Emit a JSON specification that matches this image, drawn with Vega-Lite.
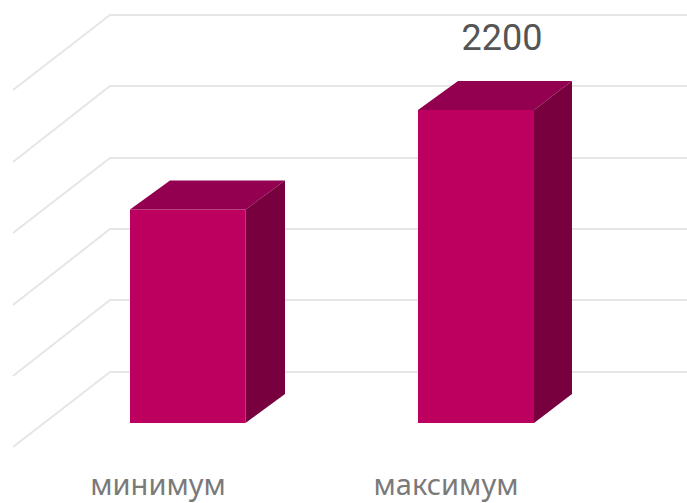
{
"$schema":"https://vega.github.io/schema/vega-lite/v6.json",
"width":687,"height":503,"padding":0,"autosize":{"type":"none"},
"background":"white","view":{"stroke":null},
"datasets":{
"grid":[
{"g":"a","x":13,"v":2341},{"g":"a","x":110,"v":2868},{"g":"a","x":687,"v":2868},
{"g":"b","x":13,"v":1835},{"g":"b","x":110,"v":2369},{"g":"b","x":687,"v":2369},
{"g":"c","x":13,"v":1336},{"g":"c","x":110,"v":1863},{"g":"c","x":687,"v":1863},
{"g":"d","x":13,"v":829},{"g":"d","x":110,"v":1364},{"g":"d","x":687,"v":1364},
{"g":"e","x":13,"v":330},{"g":"e","x":110,"v":865},{"g":"e","x":687,"v":865},
{"g":"f","x":13,"v":-169},{"g":"f","x":110,"v":358},{"g":"f","x":687,"v":358}
],
"faces":[
{"bar":"min","face":"front","x":130,"v":1500,"v2":0},{"bar":"min","face":"front","x":245.5,"v":1500,"v2":0},
{"bar":"min","face":"side","x":245.5,"v":1500,"v2":0},{"bar":"min","face":"side","x":285,"v":1704,"v2":204},
{"bar":"min","face":"top","x":130,"v":1500,"v2":1500},{"bar":"min","face":"top","x":170,"v":1704,"v2":1500},{"bar":"min","face":"top","x":245.5,"v":1704,"v2":1500},{"bar":"min","face":"top","x":285,"v":1704,"v2":1704},
{"bar":"max","face":"front","x":418,"v":2200,"v2":0},{"bar":"max","face":"front","x":534,"v":2200,"v2":0},
{"bar":"max","face":"side","x":534,"v":2200,"v2":0},{"bar":"max","face":"side","x":572,"v":2404,"v2":204},
{"bar":"max","face":"top","x":418,"v":2200,"v2":2200},{"bar":"max","face":"top","x":458,"v":2404,"v2":2200},{"bar":"max","face":"top","x":534,"v":2404,"v2":2200},{"bar":"max","face":"top","x":572,"v":2404,"v2":2404}
]
},
"encoding":{
"x":{"field":"x","type":"quantitative","scale":{"domain":[0,687],"nice":false,"zero":false},"axis":null},
"y":{"field":"v","type":"quantitative","scale":{"domain":[-562.3,2973.2],"nice":false,"zero":false},"axis":null}
},
"layer":[
{"data":{"name":"grid"},"mark":{"type":"line","color":"#e6e6e6","strokeWidth":2,"clip":true},"encoding":{"detail":{"field":"g"}}},
{"data":{"name":"faces"},"transform":[{"filter":"datum.face==='front'"}],"mark":{"type":"area","color":"#bd0060"},"encoding":{"y2":{"field":"v2"},"detail":{"field":"bar"}}},
{"data":{"name":"faces"},"transform":[{"filter":"datum.face==='top'"}],"mark":{"type":"area","color":"#930050"},"encoding":{"y2":{"field":"v2"},"detail":{"field":"bar"}}},
{"data":{"name":"faces"},"transform":[{"filter":"datum.face==='side'"}],"mark":{"type":"area","color":"#79003f"},"encoding":{"y2":{"field":"v2"},"detail":{"field":"bar"}}},
{"data":{"values":[{"x":502,"v":2622,"t":"2200"}]},"mark":{"type":"text","font":"Roboto","fontSize":36,"color":"#555555","align":"center","baseline":"alphabetic"},"encoding":{"text":{"field":"t"}}},
{"data":{"values":[{"x":158,"v":-506,"t":"минимум"},{"x":446,"v":-506,"t":"максимум"}]},"mark":{"type":"text","font":"Noto Sans","fontSize":29,"color":"#7a7a7a","align":"center","baseline":"alphabetic"},"encoding":{"text":{"field":"t"}}}
]
}
